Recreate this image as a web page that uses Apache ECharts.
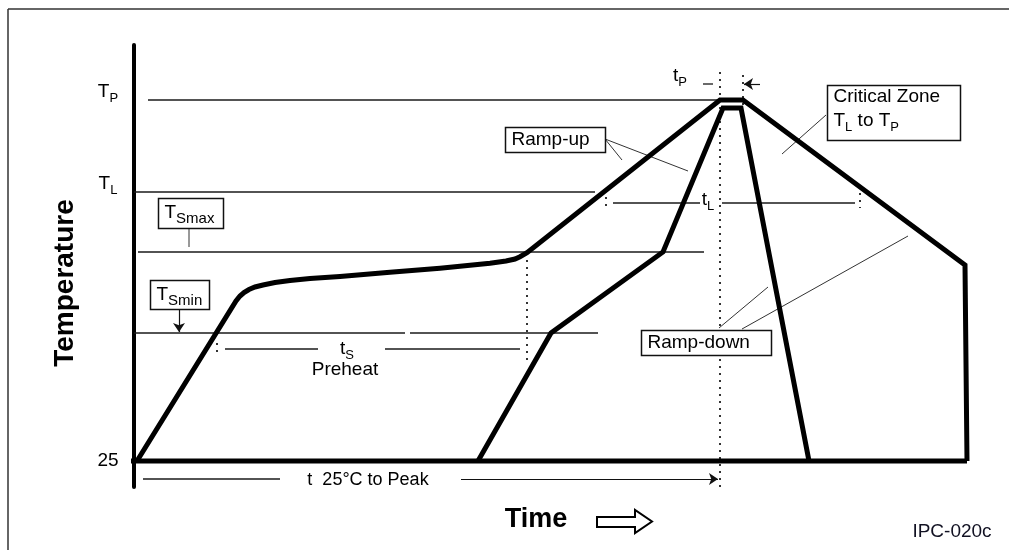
<!DOCTYPE html>
<html><head><meta charset="utf-8">
<script src="https://cdn.jsdelivr.net/npm/echarts@6/dist/echarts.min.js"></script>
<style>html,body{margin:0;padding:0;background:#fff}#c{width:1009px;height:550px}</style>
</head><body><div id="c"></div>
<script>
// Schematic reflow profile (IPC/JEDEC J-STD-020). Units are schematic: x = time, y = temperature (baseline 25).
const maxProfileX = [3, 102, 106, 110, 115, 121, 129, 141, 156, 176, 206, 256, 306, 356, 372, 381, 386, 393, 586, 609, 831, 833];
const maxProfileY = [25, 185, 190, 193.5, 196.5, 199, 201, 203.5, 205.5, 207.5, 209.5, 213.7, 217.7, 222.7, 225, 227, 229.3, 233.3, 386, 386, 221, 25];
const minProfileX = [344, 417, 529, 589, 607, 675];
const minProfileY = [25, 153, 234, 378, 378, 25];
const baselineX = [-4, 833];
const baselineY = [25, 25];

// temperature levels (schematic)
const levelLabels = ['T_P', 'T_L', '25'];
const levelValues = [386, 294, 25];

// horizontal reference lines [x1, y1, x2, y2]
const levelLines = [[14, 386, 586, 386], [0, 294, 461, 294], [4, 234, 570, 234], [0, 153, 271, 153], [276, 153, 464, 153]];
// time-span lines
const spanLines = [[479, 283, 566, 283], [588, 283, 721, 283], [91, 137, 184, 137], [251, 137, 386, 137], [9, 7, 146, 7], [569, 402, 579, 402]];
// annotation leader lines
const leaderLines = [[471, 347, 488, 326], [471, 347, 554, 315], [692, 371, 648, 332], [585, 158, 634, 199], [608, 157, 774, 250], [55, 258, 55, 239]];
// arrows
const arrowLines = [[327, 7, 584, 7], [45, 177, 45, 154], [626, 402, 610, 402]];
// dotted markers
const dottedLines = [[586, 414, 586, -4], [609, 411, 609, 376], [393, 233, 393, 126], [472, 289, 472, 276], [726, 293, 726, 278], [83, 143, 83, 134]];

// boxed annotations: text, anchor x, anchor y
const boxTexts = ['{n|Ramp-up}', '{n|Critical Zone}\n{n|T}{s|L}{n| to T}{s|P}', '{n|Ramp-down}', '{n|T}{bs|Smax}', '{n|T}{bs|Smin}'];
const boxX = [421, 759.5, 572, 56.5, 45.5];
const boxY = [346.5, 373.5, 143.5, 273, 191.5];

const TXT = '#111122';
const FONT = 'Liberation Sans, Arial, sans-serif';
const boxSizes = [[100, 25], [133, 55], [130, 25], [65, 30], [59, 29]];
const boxTextDy = [0, -3, 0, 0, 0];

const chart = echarts.init(document.getElementById('c'), null, {renderer: 'canvas'});

const NB = {textBorderWidth: 0, textBorderColor: 'transparent', textShadowBlur: 0};
const rich = {
  n: Object.assign({fontSize: 19, color: TXT, fontFamily: FONT, lineHeight: 23}, NB),
  s: Object.assign({fontSize: 13, color: TXT, fontFamily: FONT, padding: [12, 0, 0, 0]}, NB),
  bs: Object.assign({fontSize: 15, color: TXT, fontFamily: FONT, padding: [12, 0, 0, 0]}, NB),
  y: Object.assign({fontSize: 19, color: TXT, fontFamily: FONT}, NB),
  ys: Object.assign({fontSize: 13, color: TXT, fontFamily: FONT, padding: [13, 0, 0, 0]}, NB),
  t: Object.assign({fontSize: 18, color: TXT, fontFamily: FONT}, NB)
};

function segSeries(list, style, z, clip) {
  return list.map(s => ({
    type: 'line', data: [[s[0], s[1]], [s[2], s[3]]], symbol: 'none', silent: true,
    clip: clip, z: z, lineStyle: style, animation: false
  }));
}

function levelText(t) {
  const p = t.split('_');
  return p.length > 1 ? '{y|' + p[0] + '}{ys|' + p[1] + '}' : '{y|' + t + '}';
}

const series = [];
series.push({
  name: 'max', type: 'line', data: maxProfileX.map((x, i) => [x, maxProfileY[i]]),
  symbol: 'none', clip: false, z: 5, silent: true,
  lineStyle: {color: '#000', width: 5, join: 'miter'}
});
series.push({
  name: 'min', type: 'line', data: minProfileX.map((x, i) => [x, minProfileY[i]]),
  symbol: 'none', clip: false, z: 5, silent: true,
  lineStyle: {color: '#000', width: 5, join: 'miter'}
});
series.push({
  name: 'base', type: 'line', data: baselineX.map((x, i) => [x, baselineY[i]]),
  symbol: 'none', clip: false, z: 5, silent: true,
  lineStyle: {color: '#000', width: 5}
});
series.push(...segSeries(levelLines, {color: '#1a1a1a', width: 1.4}, 3, false));
series.push(...segSeries(spanLines, {color: '#1a1a1a', width: 1.3}, 3, false));
series.push(...segSeries(leaderLines, {color: '#333', width: 1}, 3, false));
series.push(...segSeries(dottedLines, {color: '#333', width: 2, type: [2, 5]}, 3, false));
series.push({
  type: 'line', data: [[0, 25]], symbol: 'none', silent: true, clip: false, z: 4,
  lineStyle: {width: 0},
  markLine: {
    silent: true, animation: false, symbol: ['none', 'arrow'], symbolSize: 9,
    label: {show: false},
    lineStyle: {type: 'solid', color: '#111', width: 1.2},
    data: arrowLines.map(a => [{coord: [a[0], a[1]]}, {coord: [a[2], a[3]]}])
  }
});

// boxed annotations (custom series so the border stays even)
series.push({
  type: 'custom', silent: true, clip: false, z: 8,
  data: boxX.map((x, i) => [x, boxY[i], i]),
  renderItem: function (params, api) {
    const i = api.value(2);
    const c = api.coord([api.value(0), api.value(1)]);
    const w = boxSizes[i][0], h = boxSizes[i][1];
    const x0 = Math.round(c[0] - w / 2) + 0.5, y0 = Math.round(c[1] - h / 2) + 0.5;
    return {
      type: 'group',
      children: [
        {type: 'rect', shape: {x: x0, y: y0, width: w, height: h}, style: {fill: '#fff', stroke: '#111', lineWidth: 1.5}},
        {type: 'text', style: {text: boxTexts[i], rich: rich, x: x0 + 6, y: c[1] + boxTextDy[i], align: 'left', verticalAlign: 'middle'}}
      ]
    };
  }
});

// free texts (custom series, anchored in data coordinates)
const freeTexts = [
  ...levelLabels.map((t, i) => ({x: -26, y: levelValues[i] + (i < 2 ? 8 : 0), text: levelText(t)})),
  {x: 546, y: 410, text: '{n|t}{s|P}'},
  {x: 574, y: 286, text: '{n|t}{s|L}'},
  {x: 213, y: 137, text: '{n|t}{s|S}'},
  {x: 211, y: 116, text: '{n|Preheat}'},
  {x: 234, y: 6, text: '{t|t  25°C to Peak}'},
  {x: -69, y: 203, text: 'Temperature', rot: Math.PI / 2, font: 'bold 28px ' + FONT, color: '#000'},
  {x: 402, y: -34, text: 'Time', font: 'bold 27px ' + FONT, color: '#000'},
  {x: 818, y: -46, text: 'IPC-020c', font: '19px ' + FONT, color: TXT}
];
series.push({
  type: 'custom', silent: true, clip: false, z: 9,
  data: freeTexts.map((d, i) => [d.x, d.y, i]),
  renderItem: function (params, api) {
    const d = freeTexts[api.value(2)];
    const c = api.coord([api.value(0), api.value(1)]);
    const style = {text: d.text, x: 0, y: 0, align: 'center', verticalAlign: 'middle'};
    if (d.font) { style.font = d.font; style.fill = d.color; } else { style.rich = rich; }
    return {type: 'text', x: c[0], y: c[1], rotation: d.rot || 0, style: style};
  }
});
// hollow "time" arrow
series.push({
  type: 'custom', silent: true, clip: false, z: 9,
  data: [[490.5, -35.5]],
  renderItem: function (params, api) {
    const c = api.coord([api.value(0), api.value(1)]);
    const pts = [[-27.5, -4.5], [10.5, -4.5], [10.5, -11.5], [27.5, 0], [10.5, 11.5], [10.5, 5.5], [-27.5, 5.5]]
      .map(p => [c[0] + p[0], c[1] + p[1]]);
    return {type: 'polygon', shape: {points: pts}, style: {fill: '#fff', stroke: '#000', lineWidth: 2}};
  }
});

chart.setOption({
  animation: false,
  backgroundColor: '#fff',
  textStyle: {fontFamily: FONT},
  grid: {left: 134, top: 45, width: 833, height: 442},
  xAxis: {type: 'value', min: 0, max: 833, show: false},
  yAxis: {
    type: 'value', min: -1, max: 441,
    axisLine: {show: true, onZero: false, lineStyle: {color: '#000', width: 4}},
    axisTick: {show: false}, axisLabel: {show: false}, splitLine: {show: false}
  },
  graphic: [
    {type: 'line', shape: {x1: 8, y1: 9, x2: 1009, y2: 9}, style: {stroke: '#333', lineWidth: 1.5}, silent: true},
    {type: 'line', shape: {x1: 8, y1: 9, x2: 8, y2: 550}, style: {stroke: '#333', lineWidth: 1.5}, silent: true}
  ],
  series: series
});
</script>
</body></html>
